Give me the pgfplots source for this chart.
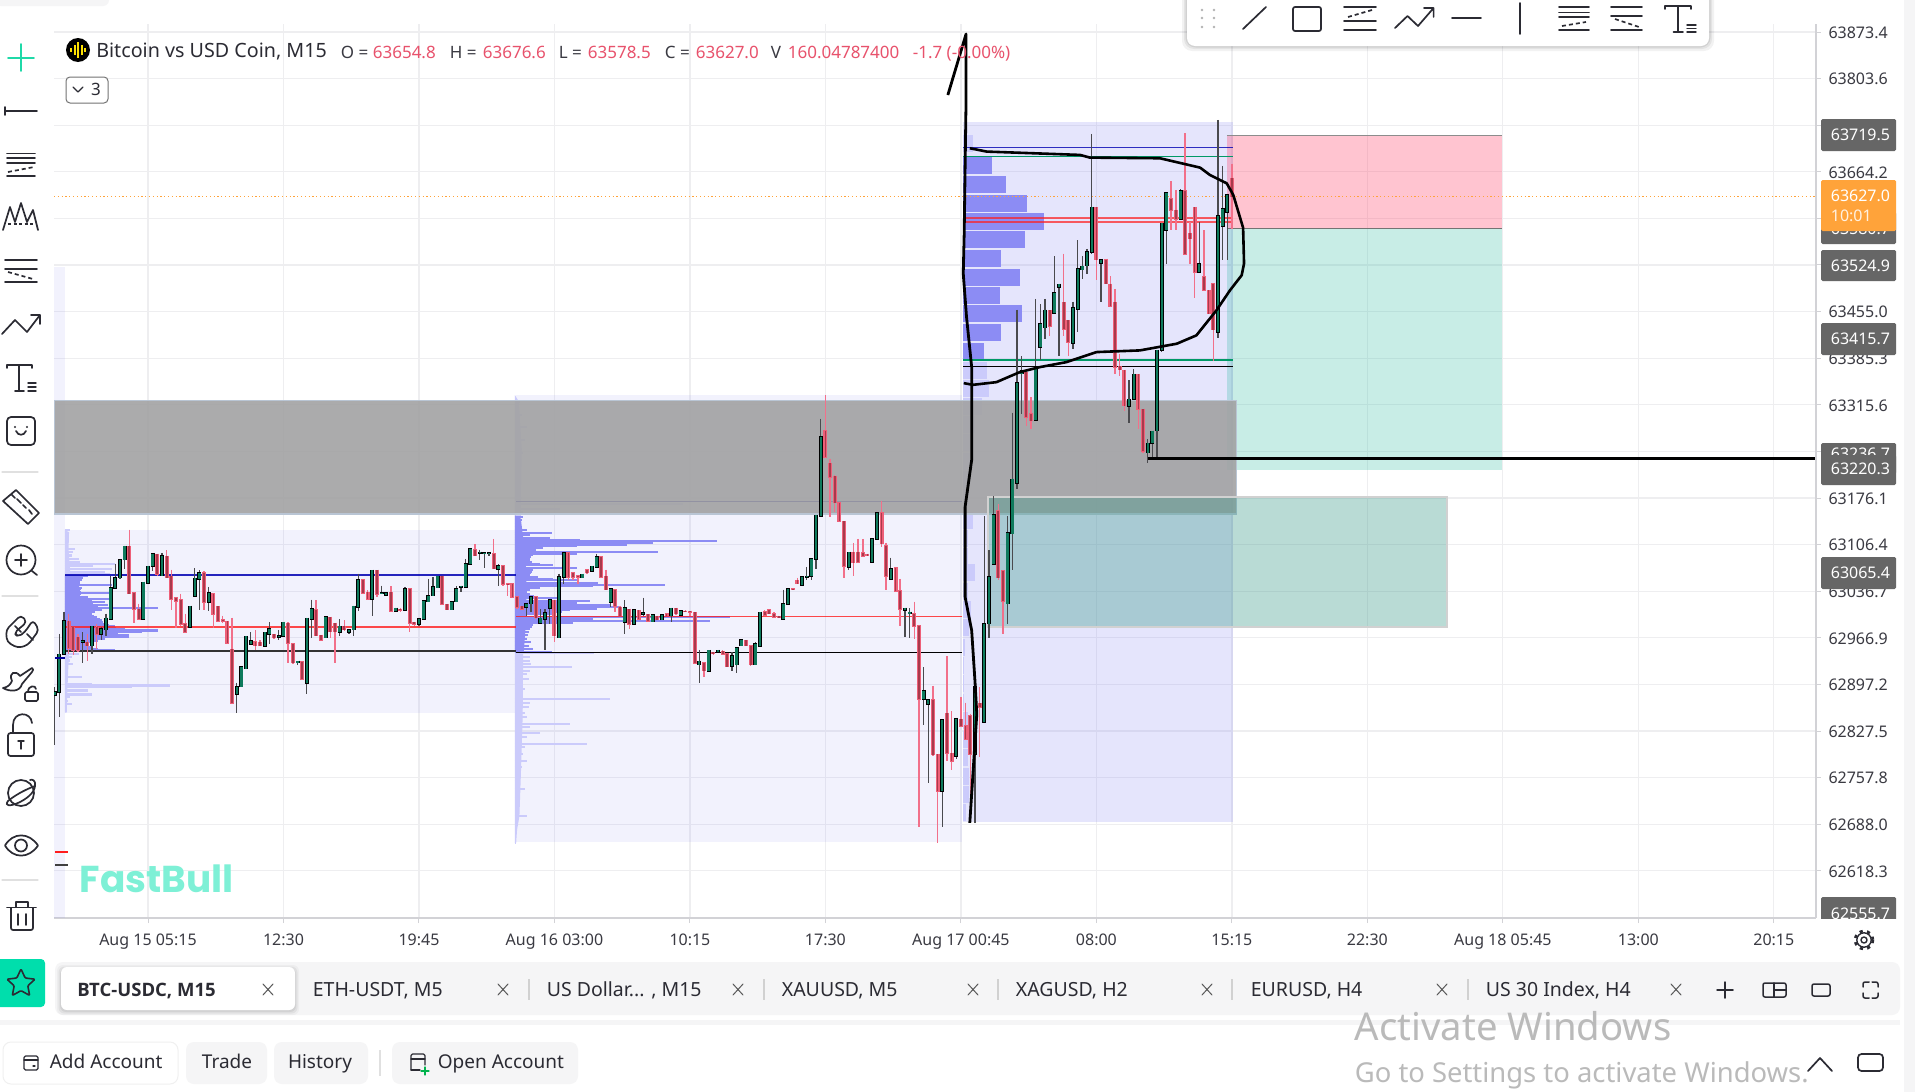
\documentclass[border=0pt]{standalone}
\usepackage{fontspec}
\setmainfont{Noto Sans}
\newfontfamily\pop{Poppins}
\newfontfamily\ob{Open Sans}
\usepackage{pgfplots}
\usepackage{pgfplotstable}
\pgfplotsset{compat=1.18}
\definecolor{gridc}{HTML}{EEEEF0}
\definecolor{axc}{HTML}{D2D2D6}
\definecolor{lab}{HTML}{3A3A42}
\definecolor{ui}{HTML}{2B2B33}
\definecolor{grn}{HTML}{0E7A5C}
\definecolor{wup}{HTML}{4A4A4E}
\definecolor{wdn}{HTML}{F2708A}
\definecolor{dnin}{HTML}{A83A4C}
\definecolor{dnout}{HTML}{EE5F78}
\definecolor{lav}{HTML}{6060F0}
\definecolor{pd}{HTML}{8C8CF4}
\definecolor{pl}{HTML}{CBCBFB}
\definecolor{hdr}{HTML}{E8526C}
\definecolor{panel}{HTML}{F5F5F6}
\definecolor{bx}{HTML}{666666}
\definecolor{tealc}{HTML}{379887}
\definecolor{orng}{HTML}{FFA33A}
\definecolor{wm}{HTML}{7EF0D6}
\definecolor{plusc}{HTML}{1FD9A8}
\definecolor{btnc}{HTML}{00DEAC}
\definecolor{pinkc}{HTML}{FF3C64}
\definecolor{greenc}{HTML}{14B496}
\definecolor{bandc}{HTML}{A2A2A3}
\definecolor{bandb}{HTML}{B9C5D4}
\newcommand{\fs}[1]{\fontsize{#1}{#1}\selectfont}

% i open high low close  (bullish candles)
\pgfplotstableread{
i o h l c
-20 62881 62893 62806 62886
-19 62886 62973 62849 62942
-18 62942 63006 62941 62992
-14 62960 62975 62929 62962
-12 62955 62985 62943 62984
-10 62972 62983 62963 62980
-9 62979 63003 62970 62996
-8 62995 63059 62995 63042
-7 63041 63078 63040 63057
-6 63057 63085 63055 63084
-5 63084 63105 63070 63104
-1 62995 63050 62995 63050
0 63049 63075 63048 63074
1 63074 63093 63067 63093
3 63060 63094 63059 63090
9 62983 63014 62983 63014
10 63029 63071 63029 63056
11 63055 63068 63008 63064
13 63020 63043 63007 63034
19 62883 62900 62855 62894
20 62894 62924 62893 62924
21 62921 62970 62920 62969
22 62957 62975 62957 62962
25 62954 62975 62953 62975
26 62972 62990 62958 62980
28 62968 62979 62963 62970
29 62969 62990 62968 62990
32 62930 62932 62927 62932
34 62899 62997 62883 62996
35 62995 63024 62967 63010
38 62967 62998 62967 62998
41 62975 62995 62969 62984
43 62975 62980 62973 62979
44 62979 63015 62969 63014
45 63013 63063 63007 63054
48 63025 63068 62999 63068
50 63033 63045 63032 63034
51 63031 63035 63030 63034
53 63007 63012 63006 63011
55 63008 63043 63007 63040
58 62987 62997 62984 62995
59 62995 63023 62995 63022
60 63021 63055 63020 63030
61 63030 63058 63030 63043
62 63042 63060 63042 63059
65 63009 63021 63008 63021
66 63021 63044 63020 63040
67 63043 63045 63035 63044
68 63043 63085 63043 63078
69 63077 63100 63077 63100
71 63094 63099 63084 63095
72 63093 63095 63071 63094
73 63093 63095 63089 63094
75 63070 63077 63044 63075
81 63013 63018 63000 63018
82 63018 63028 63006 63028
84 62989 63010 62988 62996
85 62995 63010 62948 63004
86 63011 63025 62987 63024
88 62967 63063 62967 63058
89 63058 63094 63047 63094
93 63057 63062 63056 63062
95 63067 63074 63067 63074
96 63073 63093 63073 63088
99 63020 63041 63013 63040
102 62990 63023 62972 63012
104 62987 63009 62986 63009
106 63002 63027 63000 63004
108 62991 63001 62990 63001
110 62994 63001 62993 63001
112 63000 63012 62990 63011
114 63001 63007 63001 63007
118 62927 62949 62900 62932
120 62917 62948 62917 62948
122 62946 62949 62945 62948
125 62925 62945 62917 62940
126 62927 62952 62915 62952
127 62955 62965 62954 62964
130 62927 62960 62927 62958
131 62954 63005 62954 63005
136 62995 63039 62994 63018
137 63017 63040 63017 63040
140 63046 63058 63044 63058
141 63058 63073 63054 63059
142 63059 63086 63053 63085
143 63085 63151 63070 63150
144 63149 63295 63149 63268
150 63073 63095 63069 63095
155 63080 63115 63080 63115
156 63115 63154 63115 63154
159 63055 63087 63054 63070
162 63008 63012 62968 63011
163 63003 63011 62967 63005
166 62875 62923 62837 62888
167 62868 62875 62750 62874
170 62737 62844 62684 62844
173 62790 62847 62785 62846
177 62793 62903 62690 62894
179 62841 63149 62841 62988
180 62988 63098 62967 63058
181 63077 63179 63077 63151
184 63018 63149 62987 63124
185 63123 63304 63069 63204
186 63198 63458 63189 63348
187 63362 63388 63302 63366
190 63293 63474 63292 63372
191 63402 63466 63382 63437
192 63431 63474 63414 63457
194 63453 63538 63452 63483
195 63492 63497 63389 63496
198 63408 63470 63399 63461
199 63459 63562 63424 63519
200 63518 63538 63504 63523
201 63524 63549 63512 63544
202 63544 63721 63542 63611
204 63528 63533 63469 63533
210 63314 63352 63289 63324
211 63324 63369 63323 63361
214 63244 63264 63229 63258
215 63258 63276 63234 63276
216 63277 63397 63234 63397
217 63397 63587 63394 63587
218 63577 63633 63527 63633
221 63593 63638 63592 63636
225 63514 63589 63513 63527
229 63424 63742 63416 63598
230 63583 63673 63532 63609
231 63604 63630 63532 63630
}\upt

% i open high low close  (bearish candles)
\pgfplotstableread{
i o h l c
-17 62992 63003 62943 62951
-16 62983 62983 62941 62948
-15 62968 62973 62945 62948
-13 62960 62973 62933 62955
-11 62983 62988 62950 62972
-4 63104 63129 63033 63033
-3 63034 63034 62989 63010
-2 63010 63018 62993 62995
2 63092 63093 63059 63062
4 63089 63098 63057 63057
5 63059 63069 63009 63025
6 63027 63027 62982 63022
7 63024 63033 62985 62987
8 62988 63003 62974 62975
12 63064 63067 63008 63020
14 63033 63034 62982 63002
15 63014 63014 62990 62992
16 62994 63000 62989 62992
17 62992 62992 62959 62959
18 62950 62997 62869 62869
23 62961 62978 62948 62955
24 62960 62963 62954 62955
27 62972 62973 62965 62967
30 62989 62990 62930 62959
31 62958 62958 62928 62930
33 62931 62931 62905 62905
36 63009 63023 62970 62970
37 62971 62971 62962 62963
39 62998 62998 62967 62976
40 62989 62989 62929 62976
42 62984 62993 62977 62979
46 63054 63054 63033 63034
47 63035 63038 63024 63025
49 63068 63068 63028 63032
52 63035 63044 63007 63007
54 63010 63012 63005 63008
56 63040 63042 62975 62989
57 62990 62991 62985 62987
63 63059 63060 63017 63017
64 63017 63018 63008 63009
70 63099 63107 63089 63090
74 63093 63115 63070 63070
76 63075 63075 63045 63047
77 63048 63049 63030 63047
78 63048 63049 63027 63028
79 63028 63028 63010 63013
80 63014 63015 63009 63010
83 63028 63028 62995 62997
87 63023 63023 62960 62970
90 63094 63094 63054 63058
91 63064 63065 63054 63058
92 63060 63061 63047 63058
94 63069 63069 63063 63064
97 63088 63088 63058 63058
98 63059 63069 63039 63039
100 63039 63039 63005 63014
101 63013 63015 62999 63000
103 63010 63010 62980 62987
105 63008 63008 62994 62995
107 63002 63002 62991 62992
109 62999 63000 62993 62994
111 63003 63004 62999 63000
113 63011 63012 63001 63003
115 63007 63008 63005 63006
116 63007 63007 63000 63005
117 63005 63006 62929 62929
119 62930 62931 62908 62918
121 62945 62946 62941 62943
123 62947 62948 62941 62942
124 62943 62944 62923 62924
128 62963 62964 62954 62955
129 62955 62955 62925 62927
132 63006 63008 63001 63001
133 63009 63010 63002 63003
134 63003 63005 62997 62998
135 62999 63000 62996 62997
138 63040 63041 63038 63039
139 63053 63057 63047 63048
145 63277 63330 63237 63237
146 63228 63235 63147 63207
147 63209 63210 63155 63169
148 63169 63170 63140 63141
149 63141 63141 63057 63074
151 63095 63109 63059 63079
152 63095 63115 63079 63080
153 63094 63115 63088 63089
154 63092 63093 63089 63090
157 63154 63172 63103 63108
158 63105 63109 63039 63059
160 63072 63073 63035 63037
161 63037 63055 62984 63010
164 63003 63021 62965 62984
165 62985 62985 62684 62875
168 62874 62895 62790 62792
169 62793 62793 62660 62737
171 62854 62939 62783 62794
172 62794 62857 62769 62782
174 62845 62878 62834 62835
175 62835 62870 62814 62815
176 62850 62853 62690 62793
178 62869 62893 62788 62863
182 63157 63167 63053 63057
183 63067 63068 62973 63022
188 63364 63365 63284 63297
189 63302 63327 63280 63292
193 63457 63457 63419 63433
196 63469 63542 63419 63429
197 63442 63442 63388 63409
203 63611 63611 63502 63533
205 63533 63533 63497 63497
206 63496 63508 63462 63463
207 63469 63489 63361 63372
208 63373 63392 63359 63368
209 63367 63367 63307 63314
212 63361 63361 63279 63309
213 63309 63309 63244 63246
219 63624 63650 63577 63607
220 63607 63637 63577 63593
222 63636 63722 63541 63541
223 63572 63589 63527 63564
224 63611 63611 63476 63514
226 63507 63577 63486 63487
227 63487 63487 63452 63452
228 63497 63497 63381 63428
232 63654.8 63676.6 63578.5 63627
}\dnt

% volume profile, day 1: price, length in bars
\pgfplotstableread{
p w
63128 1
63123 .7
63118 .4
63113 .2
63108 .4
63100 2.1
63095 1.8
63090 1.4
63085 2.9
63080 3.2
63078 10.7
63074 6
63070 10
63066 8.6
63062 9.6
62943 2.9
62938 1.4
62933 1.1
62928 1.8
62923 .7
62918 .4
62913 .7
62908 3.6
62903 .7
62898 5.7
62895.5 22.5
62893 14.3
62888 5
62882 5.7
62878 1.1
62873 .7
62868 1.4
62863 .4
62858 .4
}\dayAl
\pgfplotstableread{
p w
63059 5
63056 3.9
63053 3.6
63050 3.2
63048 3.2
63045.5 10
63042 3.6
63040 3.4
63038 3.2
63036 3.4
63034 10
63032 3.4
63030.5 3.2
63028 5
63025.5 10
63023 5.7
63020.5 8.6
63018 6
63015.5 9.3
63013 7
63011.5 20
63008 8
63005 6.5
63003 5.7
63000 6.2
62998 6.8
62995.5 7.4
62993 8
62990.5 8.2
62988 8.6
62986 9.4
62984 10.7
62982 11
62980.5 12.9
62978 20
62975.5 16.4
62973 11.4
62970.5 13.6
62968 13.6
62965.5 8.6
62963 7.1
62960.5 6
62958 5
62955.5 5.2
62953 5.7
62950.5 7.1
62948 10.7
}\dayAd
% volume profile, day 2
\pgfplotstableread{
p w
63320 1.1
63300 1.4
63283 2.5
63263 2.1
63243 1.8
63213 1.1
63183 1.1
63167 36
63160 9.6
63155 1.8
62944 17
62938 3.2
62933 3.2
62928 3.4
62924 12.1
62918 3.2
62913 2.5
62905 2.9
62898 1.8
62890 2.1
62875 20.4
62870 3.2
62863 2.9
62855 2.1
62848 2.5
62838 11.8
62833 3.2
62825 5.4
62818 2.5
62808 15.4
62803 2.1
62793 1.8
62783 2.5
62773 1.4
62753 1.1
62740 2.1
62728 .7
62700 2.5
62688 .7
62660 .2
}\dayBl
\pgfplotstableread{
p w
63148 1.8
63143 1.4
63138 1.1
63133 1.4
63128 2.5
63124.5 7.9
63120.5 3.2
63117 7.5
63114 13.9
63111.5 43.2
63109 29.6
63106.5 24
63104 13.2
63101.5 6
63099 4.6
63095.5 30.7
63093 13.2
63090.5 3.9
63088 3.4
63085.5 3.3
63083 3.2
63080.5 3.6
63078 5.4
63075.5 8.2
63072 13.2
63068.5 3.9
63066 3.6
63063.5 3.5
63061 3.2
63058.5 5
63055.5 8.2
63053 13.2
63049.5 17.8
63046.5 32.1
63044 16.8
63041.5 5.4
63039 3.2
63036 2.5
63033 3.2
63030 4
63026.5 9.6
63022.5 16
63019 13.2
63015.5 20.4
63013 22.5
63010.5 17.5
63008 11.8
63005.5 10
63002 8.2
62998 46
62995.5 16.8
62992 41.8
62989 12.5
62985.5 3.9
62983 3.6
62980 3.2
62975 2.9
62971 2.8
62965.5 2.5
62960 3.5
62955 2.9
62950 3.9
62946 7.9
}\dayBd
% volume profile, day 3
\pgfplotstableread{
p w
63673.5 6.1
63645 9.1
63617.5 13.7
63590 17.4
63562.5 13.2
63534.5 8.2
63506.5 12.1
63479 7.9
63451.5 12.7
63424 8.2
63396 4.5
}\dayCd
\pgfplotstableread{
p w
63707 2.1
63367.5 5.1
63340 5.6
63313.5 4
63286 2.5
63258.5 1.5
63231 1.5
63204 1
63177 1
63143 2.1
63115 1
63088 1
63064 2.5
63036 1
63009 1.8
62982 1.3
62953 .5
62926 .3
62898 .3
62870 .3
62843 1
62815 1
62788 1
62760 1.2
62733 1.2
62705 .6
}\dayCl

\begin{document}
\begin{tikzpicture}
\useasboundingbox (0pt,0pt) rectangle (1915pt,-1092pt);
\fill[white] (0pt,0pt) rectangle (1915pt,-1092pt);
\begin{axis}[
  at={(54pt,-918pt)},anchor=south west,
  width=1762pt,height=894pt,scale only axis,
  xmin=-20.12,xmax=357.02,ymin=62547.7,ymax=63885.4,
  axis x line=bottom,axis y line=right,
  axis line style={-,draw=axc,line width=1.2pt},
  tick style={draw=axc,line width=1pt},tick align=outside,major tick length=5pt,
  grid=major,grid style={draw=gridc,line width=1.2pt},
  scaled y ticks=false,scaled x ticks=false,
  xtick={0,29,58,87,116,145,174,203,232,261,290,319,348},
  xticklabels={Aug 15 05:15,12:30,19:45,Aug 16 03:00,10:15,17:30,Aug 17 00:45,08:00,15:15,22:30,Aug 18 05:45,13:00,20:15},
  ytick={63873.4,63803.6,63733.9,63664.2,63594.5,63524.8,63455.0,63385.3,63315.6,63245.8,63176.1,63106.4,63036.7,62966.9,62897.2,62827.5,62757.8,62688.0,62618.3},
  yticklabels={63873.4,63803.6,,63664.2,,,63455.0,63385.3,63315.6,,63176.1,63106.4,63036.7,62966.9,62897.2,62827.5,62757.8,62688.0,62618.3},
  tick label style={font=\fs{16},text=lab},
  xticklabel style={anchor=mid,yshift=-20pt},
  yticklabel style={anchor=mid west,xshift=4pt,yshift=-3.6pt},
  every axis plot/.append style={forget plot},
]
% left strip and day rectangles
\addplot[draw=none,fill=lav,fill opacity=.08] coordinates {(-20.12,63522) (-17.77,63522) (-17.77,62547.7) (-20.12,62547.7)} --cycle;
\addplot[draw=none,fill=lav,fill opacity=.08] coordinates {(-17.77,63128.2) (78.77,63128.2) (78.77,62854.9) (-17.77,62854.9)} --cycle;
\addplot[draw=none,fill=lav,fill opacity=.08] coordinates {(78.77,63330.2) (174.2,63330.2) (174.2,62661.4) (78.77,62661.4)} --cycle;
\addplot[draw=none,fill=lav,fill opacity=.16] coordinates {(174.45,63738.7) (232.2,63738.7) (232.2,62691.3) (174.45,62691.3)} --cycle;
% target rectangles
\addplot[draw=none,fill=pinkc,fill opacity=.3] coordinates {(230.95,63719.3) (289.8,63719.3) (289.8,63580.1) (230.95,63580.1)} --cycle;
\addplot[draw=none,fill=greenc,fill opacity=.23] coordinates {(230.95,63580.1) (289.8,63580.1) (289.8,63218) (230.95,63218)} --cycle;
\addplot[draw=black!45,line width=.8pt] coordinates {(230.95,63719.3) (289.8,63719.3)};
\addplot[draw=black!55,line width=1pt] coordinates {(230.95,63580.1) (289.8,63580.1)};
% continuous base of the profiles
\addplot[draw=none,fill=pl] coordinates {(-17.77,63128) (-16.9,63125) (-17,63100) (-16.6,63062) (-16.9,62946) (-17.2,62900) (-17.4,62855) (-17.77,62855)} --cycle;
\addplot[draw=none,fill=pl] coordinates {(78.55,63330) (79.4,63320) (80,63250) (79.8,63150) (80.3,62944) (80.2,62850) (79.8,62760) (79.5,62700) (79,62680) (78.8,62660) (78.55,62660)} --cycle;
\addplot[draw=none,fill=pd] coordinates {(-17.77,63060) (-14.8,63060) (-14.6,62990) (-14.8,62947) (-17.77,62947)} --cycle;
\addplot[draw=none,fill=pd] coordinates {(78.55,63150) (79.8,63145) (80.6,63100) (81,63060) (81,63000) (80.6,62960) (80.4,62945) (78.55,62945)} --cycle;
% profiles
\pgfplotsset{prof/.style n args={2}{draw=none,mark=none,error bars/.cd,x dir=plus,x explicit,error mark=none,error bar style={draw=#1,line width=#2}}}
\addplot[prof={pl}{2.2pt}] table[x expr=-17.77,y=p,x error plus=w] {\dayAl};
\addplot[prof={pd}{2.2pt}] table[x expr=-17.77,y=p,x error plus=w] {\dayAd};
\addplot[prof={pl}{2pt}] table[x expr=78.55,y=p,x error plus=w] {\dayBl};
\addplot[prof={pd}{2pt}] table[x expr=78.55,y=p,x error plus=w] {\dayBd};
\addplot[prof={pl}{17pt}] table[x expr=174.45,y=p,x error plus=w] {\dayCl};
\addplot[prof={pd}{17pt}] table[x expr=174.45,y=p,x error plus=w] {\dayCd};
% level lines under the band
\addplot[draw=blue!60!black,line width=1.2pt] coordinates {(78.77,63170.6) (174.2,63170.6)};
% gray band
\addplot[draw=bandb,line width=1.2pt,fill=bandc,fill opacity=.9] coordinates {(-20.12,63321.7) (232.9,63321.7) (232.9,63152.2) (-20.12,63152.2)} --cycle;
% teal rectangle
\addplot[draw=black!18,line width=2pt,fill=tealc,fill opacity=.35] coordinates {(179.8,63177.6) (278,63177.6) (278,62983.1) (179.8,62983.1)} --cycle;
% price line
\addplot[draw=orng,line width=1pt,dash pattern=on 1.2pt off 2.6pt] coordinates {(-20.12,63627) (357.02,63627)};
% level lines
\addplot[draw=blue!70!black,opacity=.85,line width=1.2pt] coordinates {(-17.77,63060.9) (78.77,63060.9)};
\addplot[draw=red!85!pink,opacity=.8,line width=1.5pt] coordinates {(-17.77,62983.5) (78.77,62983.5)};
\addplot[draw=black!80,line width=1.3pt] coordinates {(-17.77,62947.2) (78.77,62947.2)};
\addplot[draw=red!85!pink,opacity=.8,line width=1.5pt] coordinates {(78.77,62998.5) (174.2,62998.5)};
\addplot[draw=black,line width=1.3pt] coordinates {(78.77,62944.6) (174.2,62944.6)};
\addplot[draw=blue!70!black,opacity=.8,line width=1.2pt] coordinates {(174.45,63700.3) (232.2,63700.3)};
\addplot[draw=teal!80!green,line width=1.2pt] coordinates {(174.45,63686.8) (232.2,63686.8)};
\addplot[draw=red!85!pink,opacity=.7,line width=1.3pt] coordinates {(174.45,63595) (232.2,63595)};
\addplot[draw=red!85!pink,opacity=.7,line width=1.3pt] coordinates {(174.45,63589) (232.2,63589)};
\addplot[draw=teal!80!green,line width=1.2pt] coordinates {(174.45,63382.6) (232.2,63382.6)};
\addplot[draw=black,line width=1.2pt] coordinates {(174.45,63372.6) (232.2,63372.6)};
% candles
\pgfplotsset{cnd/.style n args={2}{draw=none,mark=none,error bars/.cd,y dir=minus,y explicit,error mark=none,error bar style={draw=#1,line width=#2}}}
\addplot[cnd={wdn}{1.4pt}] table[x=i,y=h,y error minus expr=\thisrow{h}-\thisrow{l}] {\dnt};
\addplot[cnd={dnout}{4pt}] table[x=i,y expr=\thisrow{o}+.8,y error minus expr=\thisrow{o}-\thisrow{c}+1.6] {\dnt};
\addplot[cnd={dnin}{1.8pt}] table[x=i,y=o,y error minus expr=\thisrow{o}-\thisrow{c}] {\dnt};
\addplot[cnd={wup}{1.3pt}] table[x=i,y=h,y error minus expr=\thisrow{h}-\thisrow{l}] {\upt};
\addplot[cnd={black}{4pt}] table[x=i,y expr=\thisrow{c}+1,y error minus expr=\thisrow{c}-\thisrow{o}+2] {\upt};
\addplot[cnd={grn}{2.4pt}] table[x=i,y=c,y error minus expr=\thisrow{c}-\thisrow{o}] {\upt};
% drawn black lines
\addplot[draw=black,line width=3pt,line join=round] coordinates {(214,63235.5) (356.8,63235.5)};
\addplot[draw=black,line width=2.6pt,line join=round] coordinates {
(175.9,63699.5) (179.5,63694.5) (199.5,63689.5) (201.6,63685.5) (216.6,63684.5) (225.2,63670.5) (227.3,63659.5) (230.9,63647) (232.3,63629.5) (234.4,63580.5) (234.6,63527) (234.1,63509.5) (231.6,63487) (228.7,63457) (224.4,63419.5) (220.2,63407) (212.3,63397) (203,63394.5) (196.6,63379.5) (190.9,63372) (186.6,63364.5) (181.6,63349.5) (176.6,63345.5) (174.6,63348)};
\addplot[draw=black,line width=2.8pt,line join=round] coordinates {
(171.2,63779.1) (175.1,63870.4) (175.1,63771.7) (174.7,63572) (174.5,63512) (175.2,63447) (176.3,63372) (176.3,63233) (174.9,63163) (174.9,63028) (176.3,62978) (177,62903) (177.4,62853) (175.9,62690)};
\end{axis}
% ---------- interface around the chart, in pixels ----------
\begin{scope}[x=1pt,y=-1pt,line cap=round,line join=round]
\pgfsetlinewidth{1.7pt}
% right strip and top-left stub
\fill[panel] (1904,0) rectangle (1915,1092);
\begin{scope}
\clip (0,0) rectangle (200,20);
\fill[panel,rounded corners=6pt] (-5,-8) rectangle (109,6);
\end{scope}
% price labels
\tikzset{pb/.style={fill=bx,rounded corners=1.5pt,draw=none},pt/.style={text=white,font=\fs{16},anchor=mid west,inner sep=0pt,yshift=-3.6pt}}
\fill[pb] (1821,119) rectangle (1896,151); \node[pt] at (1830,134.5) {63719.5};
\fill[pb] (1821,212) rectangle (1896,244); \node[pt] at (1830,228) {63580.7};
\fill[orng,rounded corners=1.5pt] (1821,180) rectangle (1896,231);
\node[pt] at (1830,195) {63627.0}; \node[pt,text=white!85!orng] at (1830,215) {10:01};
\fill[pb] (1821,250) rectangle (1896,281); \node[pt] at (1830,265) {63524.9};
\fill[pb] (1821,323) rectangle (1896,355); \node[pt] at (1830,338) {63415.7};
\fill[pb] (1821,443) rectangle (1896,474); \node[pt] at (1830,453) {63236.7};
\fill[pb] (1821,455) rectangle (1896,485); \node[pt] at (1830,468.5) {63220.3};
\fill[pb] (1821,557) rectangle (1896,589); \node[pt] at (1830,572.5) {63065.4};
\begin{scope}
\clip (1815,890) rectangle (1900,918);
\fill[pb] (1821,897) rectangle (1896,930); \node[pt] at (1830,913) {62555.7};
\end{scope}
% left ends of earlier levels
\draw[blue!60!black,line width=1.2pt,line cap=butt] (55,658) -- (65,658);
\draw[red!85!pink,line width=1.2pt,line cap=butt] (55,852) -- (68,852);
\draw[black!75,line width=1.2pt,line cap=butt] (55,865) -- (68,865);
% header
\fill[black] (78,50) circle (12);
\draw[yellow!85!orange,line width=2pt,line cap=butt] (71,48)--(71,52) (74.5,45)--(74.5,55) (78,42)--(78,58) (81.5,45)--(81.5,55) (85,48)--(85,52);
\tikzset{h/.style={anchor=mid west,inner sep=0pt,font=\fs{17},yshift=-4.5pt},hr/.style={h,text=hdr},hg/.style={h,text=lab}}
\node[anchor=mid west,inner sep=0pt,font=\fs{19.7},text=ui,yshift=-4.5pt] at (95.5,50) {Bitcoin vs USD Coin, M15};
\node[hg] at (340,51) {O =}; \node[hr] at (372,51) {63654.8};
\node[hg] at (449,51) {H =}; \node[hr] at (482,51) {63676.6};
\node[hg] at (558,51) {L =}; \node[hr] at (587,51) {63578.5};
\node[hg] at (664,51) {C =}; \node[hr] at (695,51) {63627.0};
\node[hg] at (770,51) {V}; \node[hr] at (787,51) {160.04787400};
\node[hr] at (912,51) {-1.7 (-0.00\%)};
\draw[black!55,line width=1pt,rounded corners=4pt,fill=white] (66,77) rectangle (108,103);
\draw[ui,line width=1.2pt] (73,87) -- (78,92) -- (83,87);
\node[anchor=mid,inner sep=0pt,font=\fs{17},text=ui,yshift=-2.5pt] at (96,90) {3};
% watermark
\node[anchor=mid west,inner sep=0pt,text=wm,font=\pop\bfseries\fs{37.4},yshift=-10pt] at (79,880) {FastBull};
% top toolbar
\begin{scope}
\clip (1150,0) rectangle (1750,80);
\foreach \o/\c in {.05/5,.06/3,.08/1.5}{\fill[black,opacity=\o,rounded corners=10pt] (1187-\c,-10) rectangle (1709+\c,46+\c);}
\fill[white,rounded corners=8pt] (1187,-10) rectangle (1709,46);
\end{scope}
\begin{scope}[draw=ui,line width=1.7pt]
\foreach \x in {1202,1214}\foreach \y in {10,18,27}{\fill[black!30] (\x,\y) circle (1.3);}
\draw (1243,29)--(1266,7);
\draw[rounded corners=2pt] (1293,7) rectangle (1321,31);
\draw (1344,7)--(1376,7) (1344,21)--(1376,21) (1344,30)--(1376,30);
\draw[dash pattern=on 4pt off 3pt,line cap=butt] (1348,17)--(1372,10);
\draw (1395,28)--(1407.5,16)--(1418,26)--(1433.6,8) (1424,8)--(1433.6,8)--(1433.6,17);
\draw (1452,18)--(1481,18);
\draw (1520,3)--(1520,34);
\draw (1559,7)--(1589,7) (1559,12.5)--(1589,12.5) (1559,17)--(1589,17) (1559,30)--(1589,30);
\draw[dash pattern=on 4pt off 3pt,line cap=butt] (1562,26)--(1586,22);
\draw (1611,7)--(1642,7) (1611,16)--(1642,16) (1611,30)--(1642,30);
\draw[dash pattern=on 4pt off 3pt,line cap=butt] (1615,19)--(1639,27);
\draw (1665,9)--(1665,6)--(1691,6)--(1691,9) (1678,6)--(1678,32) (1673.5,32)--(1683,32);
\draw[line width=1.4pt] (1687,25)--(1696,25) (1687,28.5)--(1696,28.5) (1687,32)--(1696,32);
\end{scope}
% left toolbar
\begin{scope}[draw=ui,line width=1.7pt]
\draw[plusc] (8,58)--(34,58) (21,44)--(21,71);
\draw (5,111)--(37,111) (5,107)--(5,115);
\draw (7,153.5)--(35,153.5) (7,158)--(35,158) (7,163)--(35,163) (7,176)--(35,176);
\draw[dash pattern=on 4pt off 3pt,line cap=butt] (8,172)--(34,167);
\draw (3,230)--(10,207)--(15,222)--(21,203)--(27,222)--(33,210)--(38,230);
\draw[dash pattern=on 3pt off 2.5pt,line cap=butt] (8,224)--(33,224);
\draw (5,260)--(37,260) (5,268.7)--(37,268.7) (5,282)--(37,282);
\draw[dash pattern=on 4pt off 3pt,line cap=butt] (8,272)--(33,279);
\draw (2,334)--(15,320)--(27,332)--(40,315) (31,315)--(40,315)--(40,324);
\draw (7,368)--(7,365)--(32,365)--(32,368) (19,365)--(19,391) (15,391)--(24,391);
\draw[line width=1.4pt] (28,383)--(36,383) (28,387)--(36,387) (28,391)--(36,391);
\draw[rounded corners=4pt] (7,417) rectangle (35,445);
\fill[ui] (15,427) circle (1.2) (27,427) circle (1.2);
\draw (16,431) .. controls (18,436) and (24,436) .. (26,431);
\draw[black!12,line width=1.3pt] (2,472)--(38,472) (2,596)--(38,596) (2,880)--(38,880);
\draw (3,501)--(16,490)--(39,513)--(28,524)--cycle (12,495)--(15,498) (17,499)--(21,503) (23,505)--(26,508) (29,510)--(32,514);
\draw (21,560) circle (14.5) (32,571)--(37,575) (15,560)--(27,560) (21,554)--(21,566);
\draw[rounded corners=4pt] (21,615)--(6,630)--(7,642)--(18,648)--(28,645)--(39,630)--(33,620)--(25,632)--(18,637)--(14,633)--(27,622)--cycle;
\draw (15,626)--(21,632) (27,634)--(33,640);
\draw (12,681) .. controls (8,672) and (16,670) .. (20,676) -- (32,668) .. controls (34,668) and (33,671) .. (32,672) -- (22,684) .. controls (20,692) and (10,692) .. (3,688) .. controls (8,687) and (10,685) .. (12,681);
\draw[rounded corners=1.5pt] (25,692) rectangle (38,701);
\draw (28,692) .. controls (28,685) and (36,685) .. (36,689);
\draw[rounded corners=2.5pt] (8,733) rectangle (34,756);
\draw (13,733)--(13,725) .. controls (13,711) and (31,711) .. (32,723);
\draw[line width=1.4pt] (18,741)--(24,741) (21,741)--(21,749);
\draw (21,793) circle (13);
\draw (8,801) .. controls (0,812) and (34,800) .. (35,786) .. controls (36,780) and (32,779) .. (30,780);
\draw (8,801) .. controls (14,796) and (24,790) .. (35,786);
\draw (5,845.5) .. controls (13,832) and (29,832) .. (38,845.5) .. controls (29,859) and (13,859) .. (5,845.5) -- cycle;
\draw (21,845.5) circle (6);
\draw (7,907.6)--(36,907.6) (16,907)--(16,902)--(28,902)--(28,907);
\draw[rounded corners=2pt] (11,908)--(11,930)--(33,930)--(33,908);
\draw (18,914)--(18,925) (26,914)--(26,925);
\begin{scope}
\clip (0,950) rectangle (60,1020);
\fill[btnc,rounded corners=4pt] (-6,959) rectangle (45,1007);
\end{scope}
\draw[ui,rounded corners=1pt,line width=1.6pt] (21,969)--(25.2,978)--(35,979.2)--(27.8,985.8)--(29.7,995.5)--(21,990.6)--(12.3,995.5)--(14.2,985.8)--(7,979.2)--(16.8,978)--cycle;
\end{scope}
% gear
\draw[ui,line width=1.4pt] (1864,940) circle (3) circle (7.2);
\draw[ui,line width=2.6pt,line cap=butt,dash pattern=on 3.2pt off 4.34pt] (1864,940) circle (9);
% tab bar
\fill[panel,rounded corners=8pt] (55,962) rectangle (1900,1015);
\foreach \o/\c in {.03/4,.05/2.5,.06/1}{\fill[black,opacity=\o,rounded corners=6pt] (61-\c,967-\c+2) rectangle (295+\c,1010+\c+1);}
\fill[white,rounded corners=6pt] (61,967) rectangle (295,1010);
\tikzset{tab/.style={anchor=mid west,inner sep=0pt,font=\fs{19.5},text=ui,yshift=-3.6pt}}
\node[tab,font=\ob\bfseries\fs{18.5}] at (76.5,990) {BTC-USDC, M15};
\node[tab] at (312,990) {ETH-USDT, M5};
\node[tab] at (546,990) {US Dollar... , M15};
\node[tab] at (781,990) {XAUUSD, M5};
\node[tab] at (1015,990) {XAGUSD, H2};
\node[tab] at (1250,990) {EURUSD, H4};
\node[tab] at (1485,990) {US 30 Index, H4};
\foreach \x in {268,503,738,973,1207,1442,1676}{\draw[black!65,line width=1pt] (\x-5,984)--(\x+5,995) (\x-5,995)--(\x+5,984);}
\foreach \x in {529,764,998,1232,1468}{\draw[black!18,line width=1.2pt,line cap=butt] (\x,979)--(\x,1000);}
\draw[ui,line width=1.5pt] (1717,990)--(1733,990) (1725,982)--(1725,998);
\draw[ui,line width=1.5pt,rounded corners=2pt] (1763,983) rectangle (1786,997);
\draw[ui,line width=1.5pt] (1774,983)--(1774,997) (1774,990)--(1786,990);
\draw[ui,line width=1.5pt,rounded corners=2pt] (1812,984) rectangle (1830,996);
\draw[ui,line width=1.5pt,rounded corners=2pt] (1863,987)--(1863,982)--(1869,982) (1872,982)--(1878,982)--(1878,987) (1878,993)--(1878,998)--(1872,998) (1869,998)--(1863,998)--(1863,993);
% bottom strip and buttons
\fill[panel] (0,1020) rectangle (1900,1025);
\draw[black!6,line width=1pt,rounded corners=8pt] (3,1042) rectangle (178,1084);
\fill[panel,rounded corners=8pt] (186,1042) rectangle (267,1084);
\fill[panel,rounded corners=8pt] (274,1042) rectangle (368,1084);
\fill[panel,rounded corners=8pt] (392,1042) rectangle (578,1084);
\draw[black!12,line width=1.2pt,line cap=butt] (380,1050)--(380,1076);
\tikzset{btn/.style={anchor=mid,inner sep=0pt,font=\fs{19},text=ui,yshift=-3pt}}
\node[btn,anchor=mid west] at (49,1063) {Add Account};
\node[btn] at (227,1063) {Trade};
\node[btn] at (320,1063) {History};
\node[btn,anchor=mid west] at (437,1063) {Open Account};
\draw[ui,line width=1.2pt,rounded corners=1.5pt] (24,1056) rectangle (38,1070);
\draw[ui,line width=1.2pt] (24,1060)--(38,1060) (33,1066)--(35,1066);
\draw[ui,line width=1.2pt,rounded corners=1.5pt] (411,1070)--(411,1054)--(425,1054)--(425,1065);
\draw[ui,line width=1.2pt] (411,1059)--(425,1059) (411,1070)--(420,1070);
\draw[teal!60!green,line width=1.2pt] (421,1071)--(429,1071) (425,1067)--(425,1075);
% activation notice
\node[anchor=mid west,inner sep=0pt,text=black!27,font=\fs{38.3},yshift=-9.5pt] at (1354,1028) {Activate Windows};
\node[anchor=mid west,inner sep=0pt,text=black!27,font=\fs{27.4},yshift=-7pt] at (1354,1073) {Go to Settings to activate Windows.};
\draw[ui,line width=1.7pt] (1808,1071)--(1820,1058)--(1832,1071);
\draw[ui,line width=1.7pt,rounded corners=3.5pt] (1858,1054) rectangle (1883,1071);
\end{scope}
\end{tikzpicture}
\end{document}
